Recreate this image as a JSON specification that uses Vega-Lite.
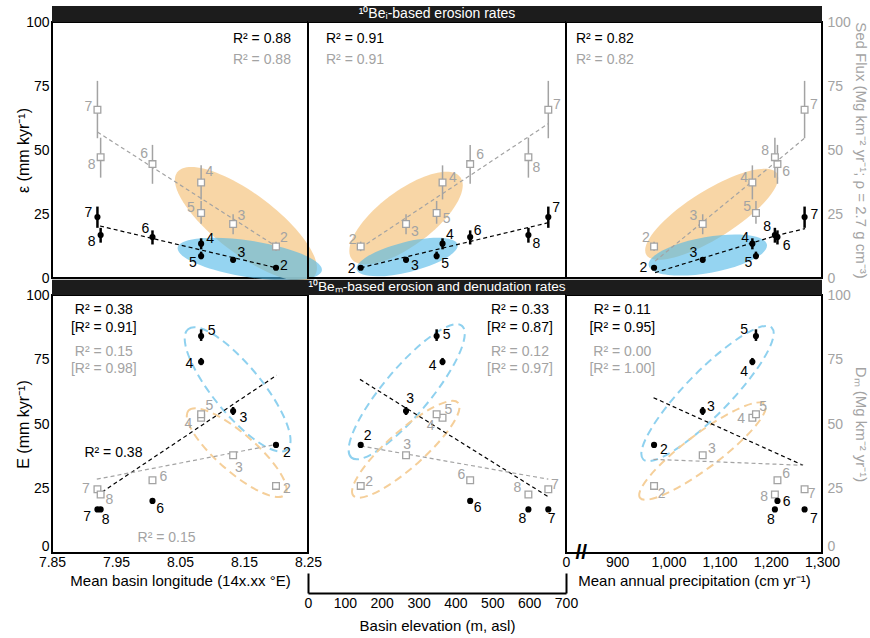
{
"$schema": "https://vega.github.io/schema/vega-lite/v6.json",
"padding": {"left": 14, "top": 5, "right": 5, "bottom": 3},
"autosize": {"type": "pad"},
"config": {
  "font": "Liberation Sans",
  "view": {"stroke": "#000000", "strokeWidth": 2},
  "axis": {"grid": false, "ticks": false, "domain": false, "labelFont": "Liberation Sans", "titleFont": "Liberation Sans", "labelFontSize": 14, "titleFontSize": 16, "titleFontWeight": "normal", "labelColor": "#000000", "titleColor": "#000000", "labelPadding": 3},
  "text": {"font": "Liberation Sans"}
},
"datasets": {
"one": [{"k": 1}],
"pts": [
{"p":"TL","s":"b","n":"2","x":8.200,"y":4.0,"lo":3.5,"hi":4.5},
{"p":"TL","s":"b","n":"3","x":8.133,"y":7.1,"lo":6.1,"hi":8.2},
{"p":"TL","s":"b","n":"4","x":8.083,"y":13.4,"lo":11.2,"hi":15.5},
{"p":"TL","s":"b","n":"5","x":8.083,"y":8.6,"lo":7.3,"hi":10.3},
{"p":"TL","s":"b","n":"6","x":8.007,"y":16.0,"lo":13.1,"hi":18.6},
{"p":"TL","s":"b","n":"7","x":7.921,"y":23.8,"lo":19.6,"hi":27.9},
{"p":"TL","s":"b","n":"8","x":7.926,"y":16.8,"lo":13.8,"hi":19.6},
{"p":"TL","s":"g","n":"2","x":8.200,"y":12.3,"lo":10.5,"hi":14.2},
{"p":"TL","s":"g","n":"3","x":8.133,"y":21.1,"lo":17.1,"hi":24.9},
{"p":"TL","s":"g","n":"4","x":8.083,"y":37.3,"lo":30.7,"hi":44.0},
{"p":"TL","s":"g","n":"5","x":8.083,"y":25.4,"lo":21.2,"hi":30.1},
{"p":"TL","s":"g","n":"6","x":8.007,"y":44.5,"lo":36.8,"hi":52.0},
{"p":"TL","s":"g","n":"7","x":7.921,"y":65.7,"lo":54.6,"hi":77.0},
{"p":"TL","s":"g","n":"8","x":7.926,"y":47.2,"lo":39.2,"hi":54.8},
{"p":"TM","s":"b","n":"2","x":143,"y":4.0,"lo":3.5,"hi":4.5},
{"p":"TM","s":"b","n":"3","x":266,"y":7.1,"lo":6.1,"hi":8.2},
{"p":"TM","s":"b","n":"4","x":365,"y":13.4,"lo":11.2,"hi":15.5},
{"p":"TM","s":"b","n":"5","x":349,"y":8.6,"lo":7.3,"hi":10.3},
{"p":"TM","s":"b","n":"6","x":440,"y":16.0,"lo":13.1,"hi":18.6},
{"p":"TM","s":"b","n":"7","x":652,"y":23.8,"lo":19.6,"hi":27.9},
{"p":"TM","s":"b","n":"8","x":598,"y":16.8,"lo":13.8,"hi":19.6},
{"p":"TM","s":"g","n":"2","x":143,"y":12.3,"lo":10.5,"hi":14.2},
{"p":"TM","s":"g","n":"3","x":266,"y":21.1,"lo":17.1,"hi":24.9},
{"p":"TM","s":"g","n":"4","x":365,"y":37.3,"lo":30.7,"hi":44.0},
{"p":"TM","s":"g","n":"5","x":349,"y":25.4,"lo":21.2,"hi":30.1},
{"p":"TM","s":"g","n":"6","x":440,"y":44.5,"lo":36.8,"hi":52.0},
{"p":"TM","s":"g","n":"7","x":652,"y":65.7,"lo":54.6,"hi":77.0},
{"p":"TM","s":"g","n":"8","x":598,"y":47.2,"lo":39.2,"hi":54.8},
{"p":"TR","s":"b","n":"2","x":972,"y":4.0,"lo":3.5,"hi":4.5},
{"p":"TR","s":"b","n":"3","x":1067,"y":7.1,"lo":6.1,"hi":8.2},
{"p":"TR","s":"b","n":"4","x":1164,"y":13.4,"lo":11.2,"hi":15.5},
{"p":"TR","s":"b","n":"5","x":1171,"y":8.6,"lo":7.3,"hi":10.3},
{"p":"TR","s":"b","n":"6","x":1213,"y":16.0,"lo":13.1,"hi":18.6},
{"p":"TR","s":"b","n":"7","x":1266,"y":23.8,"lo":19.6,"hi":27.9},
{"p":"TR","s":"b","n":"8","x":1208,"y":16.8,"lo":13.8,"hi":19.6},
{"p":"TR","s":"g","n":"2","x":972,"y":12.3,"lo":10.5,"hi":14.2},
{"p":"TR","s":"g","n":"3","x":1067,"y":21.1,"lo":17.1,"hi":24.9},
{"p":"TR","s":"g","n":"4","x":1164,"y":37.3,"lo":30.7,"hi":44.0},
{"p":"TR","s":"g","n":"5","x":1171,"y":25.4,"lo":21.2,"hi":30.1},
{"p":"TR","s":"g","n":"6","x":1213,"y":44.5,"lo":36.8,"hi":52.0},
{"p":"TR","s":"g","n":"7","x":1266,"y":65.7,"lo":54.6,"hi":77.0},
{"p":"TR","s":"g","n":"8","x":1208,"y":47.2,"lo":39.2,"hi":54.8},
{"p":"BL","s":"b","n":"2","x":8.200,"y":41.9,"lo":41.2,"hi":42.6},
{"p":"BL","s":"b","n":"3","x":8.133,"y":55.0,"lo":53.5,"hi":56.6},
{"p":"BL","s":"b","n":"4","x":8.083,"y":74.1,"lo":72.8,"hi":75.6},
{"p":"BL","s":"b","n":"5","x":8.083,"y":84.1,"lo":82.2,"hi":86.7},
{"p":"BL","s":"b","n":"6","x":8.007,"y":20.2,"lo":19.7,"hi":20.7},
{"p":"BL","s":"b","n":"7","x":7.921,"y":16.9,"lo":16.4,"hi":17.4},
{"p":"BL","s":"b","n":"8","x":7.926,"y":16.9,"lo":16.4,"hi":17.4},
{"p":"BL","s":"g","n":"2","x":8.200,"y":26.0},
{"p":"BL","s":"g","n":"3","x":8.133,"y":37.9},
{"p":"BL","s":"g","n":"4","x":8.083,"y":52.4},
{"p":"BL","s":"g","n":"5","x":8.083,"y":53.8},
{"p":"BL","s":"g","n":"6","x":8.007,"y":28.2},
{"p":"BL","s":"g","n":"7","x":7.921,"y":24.7},
{"p":"BL","s":"g","n":"8","x":7.926,"y":22.7},
{"p":"BM","s":"b","n":"2","x":143,"y":41.9,"lo":41.2,"hi":42.6},
{"p":"BM","s":"b","n":"3","x":266,"y":55.0,"lo":53.5,"hi":56.6},
{"p":"BM","s":"b","n":"4","x":365,"y":74.1,"lo":72.8,"hi":75.6},
{"p":"BM","s":"b","n":"5","x":349,"y":84.1,"lo":82.2,"hi":86.7},
{"p":"BM","s":"b","n":"6","x":440,"y":20.2,"lo":19.7,"hi":20.7},
{"p":"BM","s":"b","n":"7","x":652,"y":16.9,"lo":16.4,"hi":17.4},
{"p":"BM","s":"b","n":"8","x":598,"y":16.9,"lo":16.4,"hi":17.4},
{"p":"BM","s":"g","n":"2","x":143,"y":26.0},
{"p":"BM","s":"g","n":"3","x":266,"y":37.9},
{"p":"BM","s":"g","n":"4","x":365,"y":52.4},
{"p":"BM","s":"g","n":"5","x":349,"y":53.8},
{"p":"BM","s":"g","n":"6","x":440,"y":28.2},
{"p":"BM","s":"g","n":"7","x":652,"y":24.7},
{"p":"BM","s":"g","n":"8","x":598,"y":22.7},
{"p":"BR","s":"b","n":"2","x":972,"y":41.9,"lo":41.2,"hi":42.6},
{"p":"BR","s":"b","n":"3","x":1067,"y":55.0,"lo":53.5,"hi":56.6},
{"p":"BR","s":"b","n":"4","x":1164,"y":74.1,"lo":72.8,"hi":75.6},
{"p":"BR","s":"b","n":"5","x":1171,"y":84.1,"lo":82.2,"hi":86.7},
{"p":"BR","s":"b","n":"6","x":1213,"y":20.2,"lo":19.7,"hi":20.7},
{"p":"BR","s":"b","n":"7","x":1266,"y":16.9,"lo":16.4,"hi":17.4},
{"p":"BR","s":"b","n":"8","x":1208,"y":16.9,"lo":16.4,"hi":17.4},
{"p":"BR","s":"g","n":"2","x":972,"y":26.0},
{"p":"BR","s":"g","n":"3","x":1067,"y":37.9},
{"p":"BR","s":"g","n":"4","x":1164,"y":52.4},
{"p":"BR","s":"g","n":"5","x":1171,"y":53.8},
{"p":"BR","s":"g","n":"6","x":1213,"y":28.2},
{"p":"BR","s":"g","n":"7","x":1266,"y":24.7},
{"p":"BR","s":"g","n":"8","x":1208,"y":22.7}
],
"labs": [
{"p":"TL","s":"b","n":"7","x":7.907,"y":25.3},{"p":"TL","s":"b","n":"8","x":7.912,"y":14.2},{"p":"TL","s":"b","n":"6","x":7.996,"y":19.3},{"p":"TL","s":"b","n":"4","x":8.097,"y":15.1},{"p":"TL","s":"b","n":"5","x":8.070,"y":5.7},{"p":"TL","s":"b","n":"3","x":8.146,"y":9.6},{"p":"TL","s":"b","n":"2","x":8.2125,"y":4.7},
{"p":"TL","s":"g","n":"7","x":7.907,"y":66.8},{"p":"TL","s":"g","n":"8","x":7.912,"y":44.0},{"p":"TL","s":"g","n":"6","x":7.994,"y":48.6},{"p":"TL","s":"g","n":"4","x":8.096,"y":41.5},{"p":"TL","s":"g","n":"5","x":8.067,"y":27.2},{"p":"TL","s":"g","n":"3","x":8.146,"y":24.1},{"p":"TL","s":"g","n":"2","x":8.2125,"y":15.5},
{"p":"TM","s":"b","n":"2","x":118.5,"y":3.4},{"p":"TM","s":"b","n":"3","x":290,"y":4.7},{"p":"TM","s":"b","n":"5","x":372,"y":5.3},{"p":"TM","s":"b","n":"4","x":385,"y":16.7},{"p":"TM","s":"b","n":"6","x":460,"y":18.4},{"p":"TM","s":"b","n":"8","x":620,"y":13.2},{"p":"TM","s":"b","n":"7","x":673,"y":27.5},
{"p":"TM","s":"g","n":"2","x":121,"y":14.7},{"p":"TM","s":"g","n":"3","x":290,"y":18.0},{"p":"TM","s":"g","n":"5","x":376,"y":22.9},{"p":"TM","s":"g","n":"4","x":393,"y":39.2},{"p":"TM","s":"g","n":"6","x":467,"y":48.0},{"p":"TM","s":"g","n":"8","x":620,"y":43.1},{"p":"TM","s":"g","n":"7","x":675,"y":67.5},
{"p":"TR","s":"b","n":"2","x":951,"y":4.0},{"p":"TR","s":"b","n":"3","x":1049,"y":9.9},{"p":"TR","s":"b","n":"4","x":1150,"y":15.7},{"p":"TR","s":"b","n":"5","x":1156,"y":6.0},{"p":"TR","s":"b","n":"8","x":1193,"y":20.0},{"p":"TR","s":"b","n":"6","x":1231,"y":12.5},{"p":"TR","s":"b","n":"7","x":1285,"y":24.5},
{"p":"TR","s":"g","n":"2","x":956,"y":15.5},{"p":"TR","s":"g","n":"3","x":1049,"y":24.2},{"p":"TR","s":"g","n":"4","x":1148,"y":39.2},{"p":"TR","s":"g","n":"5","x":1154,"y":27.7},{"p":"TR","s":"g","n":"8","x":1189,"y":49.6},{"p":"TR","s":"g","n":"6","x":1230,"y":41.5},{"p":"TR","s":"g","n":"7","x":1284,"y":67.6},
{"p":"BL","s":"b","n":"5","x":8.0995,"y":86.0},{"p":"BL","s":"b","n":"4","x":8.0645,"y":73.1},{"p":"BL","s":"b","n":"3","x":8.149,"y":52.4},{"p":"BL","s":"b","n":"2","x":8.217,"y":38.9},{"p":"BL","s":"b","n":"6","x":8.019,"y":16.9},{"p":"BL","s":"b","n":"7","x":7.905,"y":14.1},{"p":"BL","s":"b","n":"8","x":7.934,"y":12.8},
{"p":"BL","s":"g","n":"5","x":8.096,"y":57.0},{"p":"BL","s":"g","n":"4","x":8.063,"y":50.1},{"p":"BL","s":"g","n":"3","x":8.142,"y":33.1},{"p":"BL","s":"g","n":"2","x":8.217,"y":24.7},{"p":"BL","s":"g","n":"6","x":8.024,"y":29.5},{"p":"BL","s":"g","n":"7","x":7.903,"y":24.7},{"p":"BL","s":"g","n":"8","x":7.9395,"y":20.5},
{"p":"BM","s":"b","n":"5","x":376,"y":84.4},{"p":"BM","s":"b","n":"4","x":338,"y":72.5},{"p":"BM","s":"b","n":"3","x":277,"y":59.6},{"p":"BM","s":"b","n":"2","x":162,"y":45.3},{"p":"BM","s":"b","n":"6","x":460,"y":17.6},{"p":"BM","s":"b","n":"8","x":582,"y":13.1},{"p":"BM","s":"b","n":"7","x":661,"y":13.3},
{"p":"BM","s":"g","n":"5","x":381,"y":55.3},{"p":"BM","s":"g","n":"4","x":333,"y":49.2},{"p":"BM","s":"g","n":"3","x":269,"y":41.9},{"p":"BM","s":"g","n":"2","x":166,"y":27.6},{"p":"BM","s":"g","n":"6","x":416,"y":30.1},{"p":"BM","s":"g","n":"8","x":568,"y":25.1},{"p":"BM","s":"g","n":"7","x":670,"y":26.2},
{"p":"BR","s":"b","n":"5","x":1148,"y":86.4},{"p":"BR","s":"b","n":"4","x":1148,"y":70.3},{"p":"BR","s":"b","n":"3","x":1083,"y":56.7},{"p":"BR","s":"b","n":"2","x":991,"y":39.9},{"p":"BR","s":"b","n":"6","x":1231,"y":19.8},{"p":"BR","s":"b","n":"8","x":1200,"y":12.8},{"p":"BR","s":"b","n":"7","x":1284,"y":13.3},
{"p":"BR","s":"g","n":"5","x":1185,"y":56.7},{"p":"BR","s":"g","n":"4","x":1142,"y":51.8},{"p":"BR","s":"g","n":"3","x":1085,"y":40.2},{"p":"BR","s":"g","n":"2","x":987,"y":22.8},{"p":"BR","s":"g","n":"6","x":1230,"y":30.5},{"p":"BR","s":"g","n":"8","x":1187,"y":21.8},{"p":"BR","s":"g","n":"7","x":1280,"y":22.8}
],
"fits": [
{"p":"TL","s":"b","o":1,"x":7.925,"y":20.3},{"p":"TL","s":"b","o":2,"x":8.200,"y":4.0},
{"p":"TL","s":"g","o":1,"x":7.921,"y":57.0},{"p":"TL","s":"g","o":2,"x":8.200,"y":12.4},
{"p":"TM","s":"b","o":1,"x":143,"y":4.0},{"p":"TM","s":"b","o":2,"x":652,"y":21.6},
{"p":"TM","s":"g","o":1,"x":143,"y":11.8},{"p":"TM","s":"g","o":2,"x":652,"y":60.3},
{"p":"TR","s":"b","o":1,"x":974,"y":2.1},{"p":"TR","s":"b","o":2,"x":1211,"y":16.6},{"p":"TR","s":"b","o":3,"x":1267,"y":19.3},
{"p":"TR","s":"g","o":1,"x":974,"y":6.6},{"p":"TR","s":"g","o":2,"x":1211,"y":45.5},{"p":"TR","s":"g","o":3,"x":1267,"y":54.8},
{"p":"BL","s":"b","o":1,"x":7.928,"y":23.6},{"p":"BL","s":"b","o":2,"x":8.201,"y":68.9},
{"p":"BL","s":"g","o":1,"x":7.920,"y":28.6},{"p":"BL","s":"g","o":2,"x":8.201,"y":42.1},
{"p":"BM","s":"b","o":1,"x":141,"y":67.3},{"p":"BM","s":"b","o":2,"x":652,"y":21.8},
{"p":"BM","s":"g","o":1,"x":143,"y":41.5},{"p":"BM","s":"g","o":2,"x":652,"y":28.6},
{"p":"BR","s":"b","o":1,"x":971,"y":60.2},{"p":"BR","s":"b","o":2,"x":1263,"y":34.0},
{"p":"BR","s":"g","o":1,"x":971,"y":36.3},{"p":"BR","s":"g","o":2,"x":1263,"y":34.0}
],
"ell": [
{"p":"TL","c":"o","x":8.153,"y":21.1},{"p":"TL","c":"b","x":8.159,"y":7.4},
{"p":"TM","c":"o","x":266,"y":23.4},{"p":"TM","c":"b","x":269,"y":8.2},
{"p":"TR","c":"o","x":1084.6,"y":24.9},{"p":"TR","c":"b","x":1077,"y":9.0},
{"p":"BL","c":"b","x":8.140,"y":63.4},{"p":"BL","c":"o","x":8.1386,"y":38.9},
{"p":"BM","c":"b","x":267.8,"y":62.5},{"p":"BM","c":"o","x":265.3,"y":40.2},
{"p":"BR","c":"b","x":1076.4,"y":61.8},{"p":"BR","c":"o","x":1066.6,"y":39.5}
],
"ann": [
{"p":"TL","s":"b","x":8.178,"y":93.4,"t":"R² = 0.88"},{"p":"TL","s":"g","x":8.178,"y":85.2,"t":"R² = 0.88"},
{"p":"TM","s":"b","x":127.5,"y":93.4,"t":"R² = 0.91"},{"p":"TM","s":"g","x":127.5,"y":85.2,"t":"R² = 0.91"},
{"p":"TR","s":"b","x":876,"y":93.4,"t":"R² = 0.82"},{"p":"TR","s":"g","x":876,"y":85.2,"t":"R² = 0.82"},
{"p":"BL","s":"b","x":7.931,"y":94.1,"t":"R² = 0.38"},{"p":"BL","s":"b","x":7.931,"y":87.3,"t":"[R² = 0.91]"},
{"p":"BL","s":"g","x":7.931,"y":77.9,"t":"R² = 0.15"},{"p":"BL","s":"g","x":7.931,"y":71.2,"t":"[R² = 0.98]"},
{"p":"BL","s":"b","x":7.946,"y":38.9,"t":"R² = 0.38"},{"p":"BL","s":"g","x":8.029,"y":5.7,"t":"R² = 0.15"},
{"p":"BM","s":"b","x":575,"y":94.1,"t":"R² = 0.33"},{"p":"BM","s":"b","x":575,"y":87.3,"t":"[R² = 0.87]"},
{"p":"BM","s":"g","x":575,"y":77.9,"t":"R² = 0.12"},{"p":"BM","s":"g","x":575,"y":71.2,"t":"[R² = 0.97]"},
{"p":"BR","s":"b","x":910,"y":94.1,"t":"R² = 0.11"},{"p":"BR","s":"b","x":910,"y":87.3,"t":"[R² = 0.95]"},
{"p":"BR","s":"g","x":910,"y":77.9,"t":"R² = 0.00"},{"p":"BR","s":"g","x":910,"y":71.2,"t":"[R² = 1.00]"}
]
},
"resolve": {"scale": {"x": "independent", "y": "independent", "color": "independent", "strokeWidth": "independent"}},
"columns": 3,
"spacing": {"row": 17, "column": 0},
"bounds": "flush",
"align": "each",
"concat": [
{
"width": 256, "height": 256,
"layer": [
 {"data": {"name": "one"}, "mark": {"type": "rect", "color": "#1c1c1c"}, "encoding": {"x": {"value": 0}, "x2": {"value": "width"}, "y": {"datum": 100, "type": "quantitative", "scale": {"domain": [0,100], "nice": false}, "axis": {"values": [0,25,50,75,100], "title": "ε (mm kyr⁻¹)", "titlePadding": -6}}, "y2": {"datum": 106.25}}},
 {
 "encoding": {
  "x": {"field": "x", "type": "quantitative", "scale": {"domain": [7.85, 8.25], "nice": false}, "axis": null},
  "y": {"field": "y", "type": "quantitative", "scale": {"domain": [0, 100], "nice": false}, "axis": {"values": [0,25,50,75,100], "title": "ε (mm kyr⁻¹)", "titlePadding": -6}}
 },
 "layer": [
 {"data": {"name": "ell"}, "transform": [{"filter": "datum.p == 'TL' && datum.c == 'o'"}], "mark": {"type": "point", "shape": "M-1,0A1,0.35,0,1,1,1,0A1,0.35,0,1,1,-1,0Z", "size": 29584, "angle": 37, "filled": true, "fill": "#f7d29c", "fillOpacity": 0.9, "opacity": 1, "strokeWidth": 0}},
 {"data": {"name": "ell"}, "transform": [{"filter": "datum.p == 'TL' && datum.c == 'b'"}], "mark": {"type": "point", "shape": "M-1,0A1,0.25,0,1,1,1,0A1,0.25,0,1,1,-1,0Z", "size": 21316, "angle": 9, "filled": true, "fill": "#4fb8e8", "fillOpacity": 0.6, "opacity": 1, "strokeWidth": 0}},
 {"data": {"name": "fits"}, "transform": [{"filter": "datum.p == 'TL'"}], "mark": {"type": "line", "strokeDash": [4,3], "strokeWidth": 1.2}, "encoding": {"color": {"field": "s", "type": "nominal", "scale": {"domain": ["b","g"], "range": ["#000000","#a3a3a3"]}, "legend": null}, "order": {"field": "o", "type": "quantitative"}}},
 {"data": {"name": "pts"}, "transform": [{"filter": "datum.p == 'TL' && isValid(datum.lo)"}], "mark": {"type": "rule"}, "encoding": {"y": {"field": "lo", "type": "quantitative", "scale": {"domain": [0,100], "nice": false}}, "y2": {"field": "hi"}, "color": {"field": "s", "type": "nominal", "scale": {"domain": ["b","g"], "range": ["#000000","#a3a3a3"]}, "legend": null}, "strokeWidth": {"field": "s", "type": "nominal", "scale": {"domain": ["b","g"], "range": [2.5,1.5]}, "legend": null}}},
 {"data": {"name": "pts"}, "transform": [{"filter": "datum.p == 'TL' && datum.s == 'g'"}], "mark": {"type": "point", "shape": "square", "filled": true, "fill": "#ffffff", "stroke": "#a3a3a3", "strokeWidth": 1.3, "size": 45, "opacity": 1}},
 {"data": {"name": "pts"}, "transform": [{"filter": "datum.p == 'TL' && datum.s == 'b'"}], "mark": {"type": "circle", "color": "#000000", "size": 38, "opacity": 1}},
 {"data": {"name": "labs"}, "transform": [{"filter": "datum.p == 'TL'"}], "mark": {"type": "text", "fontSize": 14, "align": "center", "baseline": "middle"}, "encoding": {"text": {"field": "n", "type": "nominal"}, "color": {"field": "s", "type": "nominal", "scale": {"domain": ["b","g"], "range": ["#000000","#a3a3a3"]}, "legend": null}}},
 {"data": {"name": "ann"}, "transform": [{"filter": "datum.p == 'TL'"}], "mark": {"type": "text", "fontSize": 14, "align": "center", "baseline": "middle"}, "encoding": {"text": {"field": "t", "type": "nominal"}, "color": {"field": "s", "type": "nominal", "scale": {"domain": ["b","g"], "range": ["#000000","#a3a3a3"]}, "legend": null}}}
 ]
 }
]
},
{
"width": 258, "height": 256,
"layer": [
 {"data": {"name": "one"}, "mark": {"type": "rect", "color": "#1c1c1c"}, "encoding": {"x": {"value": 0}, "x2": {"value": "width"}, "y": {"datum": 100, "type": "quantitative", "scale": {"domain": [0,100], "nice": false}, "axis": null}, "y2": {"datum": 106.25}}},
 {"data": {"name": "one"}, "mark": {"type": "text", "text": "¹⁰Beᵢ-based erosion rates", "color": "#ffffff", "fontSize": 14, "align": "center", "baseline": "middle"}, "encoding": {"x": {"datum": 350, "type": "quantitative", "scale": {"domain": [0,700], "nice": false}, "axis": null}, "y": {"datum": 103.1, "type": "quantitative", "scale": {"domain": [0,100], "nice": false}, "axis": null}}},
 {
 "encoding": {
  "x": {"field": "x", "type": "quantitative", "scale": {"domain": [0, 700], "nice": false}, "axis": null},
  "y": {"field": "y", "type": "quantitative", "scale": {"domain": [0, 100], "nice": false}, "axis": null}
 },
 "layer": [
 {"data": {"name": "ell"}, "transform": [{"filter": "datum.p == 'TM' && datum.c == 'o'"}], "mark": {"type": "point", "shape": "M-1,0A1,0.4,0,1,1,1,0A1,0.4,0,1,1,-1,0Z", "size": 18496, "angle": 323, "filled": true, "fill": "#f7d29c", "fillOpacity": 0.9, "opacity": 1, "strokeWidth": 0}},
 {"data": {"name": "ell"}, "transform": [{"filter": "datum.p == 'TM' && datum.c == 'b'"}], "mark": {"type": "point", "shape": "M-1,0A1,0.29,0,1,1,1,0A1,0.29,0,1,1,-1,0Z", "size": 10816, "angle": 346, "filled": true, "fill": "#4fb8e8", "fillOpacity": 0.6, "opacity": 1, "strokeWidth": 0}},
 {"data": {"name": "fits"}, "transform": [{"filter": "datum.p == 'TM'"}], "mark": {"type": "line", "strokeDash": [4,3], "strokeWidth": 1.2}, "encoding": {"color": {"field": "s", "type": "nominal", "scale": {"domain": ["b","g"], "range": ["#000000","#a3a3a3"]}, "legend": null}, "order": {"field": "o", "type": "quantitative"}}},
 {"data": {"name": "pts"}, "transform": [{"filter": "datum.p == 'TM' && isValid(datum.lo)"}], "mark": {"type": "rule"}, "encoding": {"y": {"field": "lo", "type": "quantitative", "scale": {"domain": [0,100], "nice": false}}, "y2": {"field": "hi"}, "color": {"field": "s", "type": "nominal", "scale": {"domain": ["b","g"], "range": ["#000000","#a3a3a3"]}, "legend": null}, "strokeWidth": {"field": "s", "type": "nominal", "scale": {"domain": ["b","g"], "range": [2.5,1.5]}, "legend": null}}},
 {"data": {"name": "pts"}, "transform": [{"filter": "datum.p == 'TM' && datum.s == 'g'"}], "mark": {"type": "point", "shape": "square", "filled": true, "fill": "#ffffff", "stroke": "#a3a3a3", "strokeWidth": 1.3, "size": 45, "opacity": 1}},
 {"data": {"name": "pts"}, "transform": [{"filter": "datum.p == 'TM' && datum.s == 'b'"}], "mark": {"type": "circle", "color": "#000000", "size": 38, "opacity": 1}},
 {"data": {"name": "labs"}, "transform": [{"filter": "datum.p == 'TM'"}], "mark": {"type": "text", "fontSize": 14, "align": "center", "baseline": "middle"}, "encoding": {"text": {"field": "n", "type": "nominal"}, "color": {"field": "s", "type": "nominal", "scale": {"domain": ["b","g"], "range": ["#000000","#a3a3a3"]}, "legend": null}}},
 {"data": {"name": "ann"}, "transform": [{"filter": "datum.p == 'TM'"}], "mark": {"type": "text", "fontSize": 14, "align": "center", "baseline": "middle"}, "encoding": {"text": {"field": "t", "type": "nominal"}, "color": {"field": "s", "type": "nominal", "scale": {"domain": ["b","g"], "range": ["#000000","#a3a3a3"]}, "legend": null}}}
 ]
 }
]
},
{
"width": 256, "height": 256,
"layer": [
 {"data": {"name": "one"}, "mark": {"type": "rect", "color": "#1c1c1c"}, "encoding": {"x": {"value": 0}, "x2": {"value": "width"}, "y": {"datum": 100, "type": "quantitative", "scale": {"domain": [0,100], "nice": false}, "axis": {"orient": "right", "values": [0,25,50,75,100], "title": "Sed Flux (Mg km⁻² yr⁻¹; ρ = 2.7 g cm⁻³)", "labelColor": "#a3a3a3", "titleColor": "#a3a3a3", "labelPadding": 5, "titlePadding": 2, "titleFontSize": 15}}, "y2": {"datum": 106.25}}},
 {
 "encoding": {
  "x": {"field": "x", "type": "quantitative", "scale": {"domain": [800, 1300], "nice": false}, "axis": null},
  "y": {"field": "y", "type": "quantitative", "scale": {"domain": [0, 100], "nice": false}, "axis": {"orient": "right", "values": [0,25,50,75,100], "title": "Sed Flux (Mg km⁻² yr⁻¹; ρ = 2.7 g cm⁻³)", "labelColor": "#a3a3a3", "titleColor": "#a3a3a3", "labelPadding": 5, "titlePadding": 2, "titleFontSize": 15}}
 },
 "layer": [
 {"data": {"name": "ell"}, "transform": [{"filter": "datum.p == 'TR' && datum.c == 'o'"}], "mark": {"type": "point", "shape": "M-1,0A1,0.31,0,1,1,1,0A1,0.31,0,1,1,-1,0Z", "size": 23716, "angle": 328, "filled": true, "fill": "#f7d29c", "fillOpacity": 0.9, "opacity": 1, "strokeWidth": 0}},
 {"data": {"name": "ell"}, "transform": [{"filter": "datum.p == 'TR' && datum.c == 'b'"}], "mark": {"type": "point", "shape": "M-1,0A1,0.3,0,1,1,1,0A1,0.3,0,1,1,-1,0Z", "size": 14400, "angle": 350, "filled": true, "fill": "#4fb8e8", "fillOpacity": 0.6, "opacity": 1, "strokeWidth": 0}},
 {"data": {"name": "fits"}, "transform": [{"filter": "datum.p == 'TR'"}], "mark": {"type": "line", "strokeDash": [4,3], "strokeWidth": 1.2}, "encoding": {"color": {"field": "s", "type": "nominal", "scale": {"domain": ["b","g"], "range": ["#000000","#a3a3a3"]}, "legend": null}, "order": {"field": "o", "type": "quantitative"}}},
 {"data": {"name": "pts"}, "transform": [{"filter": "datum.p == 'TR' && isValid(datum.lo)"}], "mark": {"type": "rule"}, "encoding": {"y": {"field": "lo", "type": "quantitative", "scale": {"domain": [0,100], "nice": false}}, "y2": {"field": "hi"}, "color": {"field": "s", "type": "nominal", "scale": {"domain": ["b","g"], "range": ["#000000","#a3a3a3"]}, "legend": null}, "strokeWidth": {"field": "s", "type": "nominal", "scale": {"domain": ["b","g"], "range": [2.5,1.5]}, "legend": null}}},
 {"data": {"name": "pts"}, "transform": [{"filter": "datum.p == 'TR' && datum.s == 'g'"}], "mark": {"type": "point", "shape": "square", "filled": true, "fill": "#ffffff", "stroke": "#a3a3a3", "strokeWidth": 1.3, "size": 45, "opacity": 1}},
 {"data": {"name": "pts"}, "transform": [{"filter": "datum.p == 'TR' && datum.s == 'b'"}], "mark": {"type": "circle", "color": "#000000", "size": 38, "opacity": 1}},
 {"data": {"name": "labs"}, "transform": [{"filter": "datum.p == 'TR'"}], "mark": {"type": "text", "fontSize": 14, "align": "center", "baseline": "middle"}, "encoding": {"text": {"field": "n", "type": "nominal"}, "color": {"field": "s", "type": "nominal", "scale": {"domain": ["b","g"], "range": ["#000000","#a3a3a3"]}, "legend": null}}},
 {"data": {"name": "ann"}, "transform": [{"filter": "datum.p == 'TR'"}], "mark": {"type": "text", "fontSize": 14, "align": "center", "baseline": "middle"}, "encoding": {"text": {"field": "t", "type": "nominal"}, "color": {"field": "s", "type": "nominal", "scale": {"domain": ["b","g"], "range": ["#000000","#a3a3a3"]}, "legend": null}}}
 ]
 }
]
},
{
"width": 256, "height": 258,
"layer": [
 {"data": {"name": "one"}, "mark": {"type": "rect", "color": "#1c1c1c"}, "encoding": {"x": {"value": 0}, "x2": {"value": "width"}, "y": {"datum": 100, "type": "quantitative", "scale": {"domain": [0,100], "nice": false}, "axis": {"values": [0,25,50,75,100], "title": "E (mm kyr⁻¹)", "titlePadding": -6, "labelBaseline": {"condition": {"test": "datum.value == 0", "value": "bottom"}, "value": "middle"}}}, "y2": {"datum": 105.9}}},
 {
 "encoding": {
  "x": {"field": "x", "type": "quantitative", "scale": {"domain": [7.85, 8.25], "nice": false}, "axis": {"values": [7.85,7.95,8.05,8.15,8.25], "format": ".2f", "title": "Mean basin longitude (14x.xx °E)", "labelFlush": false, "labelPadding": 2, "titleFontSize": 15, "titlePadding": 4}},
  "y": {"field": "y", "type": "quantitative", "scale": {"domain": [0, 100], "nice": false}, "axis": {"values": [0,25,50,75,100], "title": "E (mm kyr⁻¹)", "titlePadding": -6, "labelBaseline": {"condition": {"test": "datum.value == 0", "value": "bottom"}, "value": "middle"}}}
 },
 "layer": [
 {"data": {"name": "ell"}, "transform": [{"filter": "datum.p == 'BL' && datum.c == 'b'"}], "mark": {"type": "point", "shape": "M-1,0A1,0.31,0,1,1,1,0A1,0.31,0,1,1,-1,0Z", "size": 24336, "angle": 50.6, "filled": false, "stroke": "#8fd1ef", "strokeWidth": 2, "strokeDash": [8,5], "opacity": 1}},
 {"data": {"name": "ell"}, "transform": [{"filter": "datum.p == 'BL' && datum.c == 'o'"}], "mark": {"type": "point", "shape": "M-1,0A1,0.3,0,1,1,1,0A1,0.3,0,1,1,-1,0Z", "size": 16384, "angle": 41, "filled": false, "stroke": "#f5cf9a", "strokeWidth": 2, "strokeDash": [8,5], "opacity": 1}},
 {"data": {"name": "fits"}, "transform": [{"filter": "datum.p == 'BL'"}], "mark": {"type": "line", "strokeDash": [4,3], "strokeWidth": 1.2}, "encoding": {"color": {"field": "s", "type": "nominal", "scale": {"domain": ["b","g"], "range": ["#000000","#a3a3a3"]}, "legend": null}, "order": {"field": "o", "type": "quantitative"}}},
 {"data": {"name": "pts"}, "transform": [{"filter": "datum.p == 'BL' && isValid(datum.lo)"}], "mark": {"type": "rule"}, "encoding": {"y": {"field": "lo", "type": "quantitative", "scale": {"domain": [0,100], "nice": false}}, "y2": {"field": "hi"}, "color": {"field": "s", "type": "nominal", "scale": {"domain": ["b","g"], "range": ["#000000","#a3a3a3"]}, "legend": null}, "strokeWidth": {"field": "s", "type": "nominal", "scale": {"domain": ["b","g"], "range": [2.5,1.5]}, "legend": null}}},
 {"data": {"name": "pts"}, "transform": [{"filter": "datum.p == 'BL' && datum.s == 'g'"}], "mark": {"type": "point", "shape": "square", "filled": true, "fill": "#ffffff", "stroke": "#a3a3a3", "strokeWidth": 1.3, "size": 45, "opacity": 1}},
 {"data": {"name": "pts"}, "transform": [{"filter": "datum.p == 'BL' && datum.s == 'b'"}], "mark": {"type": "circle", "color": "#000000", "size": 38, "opacity": 1}},
 {"data": {"name": "labs"}, "transform": [{"filter": "datum.p == 'BL'"}], "mark": {"type": "text", "fontSize": 14, "align": "center", "baseline": "middle"}, "encoding": {"text": {"field": "n", "type": "nominal"}, "color": {"field": "s", "type": "nominal", "scale": {"domain": ["b","g"], "range": ["#000000","#a3a3a3"]}, "legend": null}}},
 {"data": {"name": "ann"}, "transform": [{"filter": "datum.p == 'BL'"}], "mark": {"type": "text", "fontSize": 14, "align": "center", "baseline": "middle"}, "encoding": {"text": {"field": "t", "type": "nominal"}, "color": {"field": "s", "type": "nominal", "scale": {"domain": ["b","g"], "range": ["#000000","#a3a3a3"]}, "legend": null}}}
 ]
 }
]
},
{
"width": 258, "height": 258,
"view": {"stroke": null},
"layer": [
 {"data": {"name": "one"}, "mark": {"type": "rect", "color": "#1c1c1c"}, "encoding": {"x": {"value": 0}, "x2": {"value": "width"}, "y": {"datum": 100, "type": "quantitative", "scale": {"domain": [0,100], "nice": false}, "axis": null}, "y2": {"datum": 105.9}}},
 {"data": {"name": "one"}, "mark": {"type": "text", "text": "¹⁰Beₘ-based erosion and denudation rates", "color": "#ffffff", "fontSize": 13.7, "align": "center", "baseline": "middle"}, "encoding": {"x": {"datum": 350, "type": "quantitative", "scale": {"domain": [0,700], "nice": false}, "axis": {"values": [0,100,200,300,400,500,600,700], "title": "Basin elevation (m, asl)", "offset": 40, "domain": true, "domainColor": "#000000", "domainWidth": 2, "ticks": true, "tickSize": -20, "tickWidth": 2, "tickColor": {"condition": {"test": "datum.value == 0 || datum.value == 700", "value": "#000000"}, "value": "transparent"}, "labelPadding": 23, "labelFlush": false, "titleFontSize": 15, "titlePadding": 8}}, "y": {"datum": 102.95, "type": "quantitative", "scale": {"domain": [0,100], "nice": false}, "axis": null}}},
 {
 "encoding": {
  "x": {"field": "x", "type": "quantitative", "scale": {"domain": [0, 700], "nice": false}, "axis": {"values": [0,100,200,300,400,500,600,700], "title": "Basin elevation (m, asl)", "offset": 40, "domain": true, "domainColor": "#000000", "domainWidth": 2, "ticks": true, "tickSize": -20, "tickWidth": 2, "tickColor": {"condition": {"test": "datum.value == 0 || datum.value == 700", "value": "#000000"}, "value": "transparent"}, "labelPadding": 23, "labelFlush": false, "titleFontSize": 15, "titlePadding": 8}},
  "y": {"field": "y", "type": "quantitative", "scale": {"domain": [0, 100], "nice": false}, "axis": null}
 },
 "layer": [
 {"data": {"name": "ell"}, "transform": [{"filter": "datum.p == 'BM' && datum.c == 'b'"}], "mark": {"type": "point", "shape": "M-1,0A1,0.27,0,1,1,1,0A1,0.27,0,1,1,-1,0Z", "size": 29584, "angle": 310, "filled": false, "stroke": "#8fd1ef", "strokeWidth": 2, "strokeDash": [8,5], "opacity": 1}},
 {"data": {"name": "ell"}, "transform": [{"filter": "datum.p == 'BM' && datum.c == 'o'"}], "mark": {"type": "point", "shape": "M-1,0A1,0.26,0,1,1,1,0A1,0.26,0,1,1,-1,0Z", "size": 19600, "angle": 318.4, "filled": false, "stroke": "#f5cf9a", "strokeWidth": 2, "strokeDash": [8,5], "opacity": 1}},
 {"data": {"name": "fits"}, "transform": [{"filter": "datum.p == 'BM'"}], "mark": {"type": "line", "strokeDash": [4,3], "strokeWidth": 1.2}, "encoding": {"color": {"field": "s", "type": "nominal", "scale": {"domain": ["b","g"], "range": ["#000000","#a3a3a3"]}, "legend": null}, "order": {"field": "o", "type": "quantitative"}}},
 {"data": {"name": "pts"}, "transform": [{"filter": "datum.p == 'BM' && isValid(datum.lo)"}], "mark": {"type": "rule"}, "encoding": {"y": {"field": "lo", "type": "quantitative", "scale": {"domain": [0,100], "nice": false}}, "y2": {"field": "hi"}, "color": {"field": "s", "type": "nominal", "scale": {"domain": ["b","g"], "range": ["#000000","#a3a3a3"]}, "legend": null}, "strokeWidth": {"field": "s", "type": "nominal", "scale": {"domain": ["b","g"], "range": [2.5,1.5]}, "legend": null}}},
 {"data": {"name": "pts"}, "transform": [{"filter": "datum.p == 'BM' && datum.s == 'g'"}], "mark": {"type": "point", "shape": "square", "filled": true, "fill": "#ffffff", "stroke": "#a3a3a3", "strokeWidth": 1.3, "size": 45, "opacity": 1}},
 {"data": {"name": "pts"}, "transform": [{"filter": "datum.p == 'BM' && datum.s == 'b'"}], "mark": {"type": "circle", "color": "#000000", "size": 38, "opacity": 1}},
 {"data": {"name": "labs"}, "transform": [{"filter": "datum.p == 'BM'"}], "mark": {"type": "text", "fontSize": 14, "align": "center", "baseline": "middle"}, "encoding": {"text": {"field": "n", "type": "nominal"}, "color": {"field": "s", "type": "nominal", "scale": {"domain": ["b","g"], "range": ["#000000","#a3a3a3"]}, "legend": null}}},
 {"data": {"name": "ann"}, "transform": [{"filter": "datum.p == 'BM'"}], "mark": {"type": "text", "fontSize": 14, "align": "center", "baseline": "middle"}, "encoding": {"text": {"field": "t", "type": "nominal"}, "color": {"field": "s", "type": "nominal", "scale": {"domain": ["b","g"], "range": ["#000000","#a3a3a3"]}, "legend": null}}}
 ]
 }
]
},
{
"width": 256, "height": 258,
"layer": [
 {"data": {"name": "one"}, "mark": {"type": "rect", "color": "#1c1c1c"}, "encoding": {"x": {"value": 0}, "x2": {"value": "width"}, "y": {"datum": 100, "type": "quantitative", "scale": {"domain": [0,100], "nice": false}, "axis": {"orient": "right", "values": [0,25,50,75,100], "title": "Dₘ (Mg km⁻² yr⁻¹)", "labelColor": "#a3a3a3", "titleColor": "#a3a3a3", "labelPadding": 5, "titlePadding": 2, "titleFontSize": 15, "labelBaseline": {"condition": {"test": "datum.value == 0", "value": "bottom"}, "value": "middle"}}}, "y2": {"datum": 105.9}}},
 {"data": {"name": "one"}, "mark": {"type": "text", "text": "//", "fontSize": 21, "fontWeight": "bold", "align": "center", "baseline": "middle", "color": "#000000"}, "encoding": {"x": {"datum": 830, "type": "quantitative", "scale": {"domain": [800,1300], "nice": false}, "axis": {"values": [800,900,1000,1100,1200,1300], "labelExpr": "datum.value == 800 ? '0' : format(datum.value, ',')", "title": "Mean annual precipitation (cm yr⁻¹)", "labelFlush": false, "labelPadding": 2, "titleFontSize": 15, "titlePadding": 4}}, "y": {"datum": 0, "type": "quantitative", "scale": {"domain": [0,100], "nice": false}, "axis": {"orient": "right", "values": [0,25,50,75,100], "title": "Dₘ (Mg km⁻² yr⁻¹)", "labelColor": "#a3a3a3", "titleColor": "#a3a3a3", "labelPadding": 5, "titlePadding": 2, "titleFontSize": 15, "labelBaseline": {"condition": {"test": "datum.value == 0", "value": "bottom"}, "value": "middle"}}}}},
 {
 "encoding": {
  "x": {"field": "x", "type": "quantitative", "scale": {"domain": [800, 1300], "nice": false}, "axis": {"values": [800,900,1000,1100,1200,1300], "labelExpr": "datum.value == 800 ? '0' : format(datum.value, ',')", "title": "Mean annual precipitation (cm yr⁻¹)", "labelFlush": false, "labelPadding": 2, "titleFontSize": 15, "titlePadding": 4}},
  "y": {"field": "y", "type": "quantitative", "scale": {"domain": [0, 100], "nice": false}, "axis": {"orient": "right", "values": [0,25,50,75,100], "title": "Dₘ (Mg km⁻² yr⁻¹)", "labelColor": "#a3a3a3", "titleColor": "#a3a3a3", "labelPadding": 5, "titlePadding": 2, "titleFontSize": 15, "labelBaseline": {"condition": {"test": "datum.value == 0", "value": "bottom"}, "value": "middle"}}}
 },
 "layer": [
 {"data": {"name": "ell"}, "transform": [{"filter": "datum.p == 'BR' && datum.c == 'b'"}], "mark": {"type": "point", "shape": "M-1,0A1,0.24,0,1,1,1,0A1,0.24,0,1,1,-1,0Z", "size": 33856, "angle": 314.3, "filled": false, "stroke": "#8fd1ef", "strokeWidth": 2, "strokeDash": [8,5], "opacity": 1}},
 {"data": {"name": "ell"}, "transform": [{"filter": "datum.p == 'BR' && datum.c == 'o'"}], "mark": {"type": "point", "shape": "M-1,0A1,0.22,0,1,1,1,0A1,0.22,0,1,1,-1,0Z", "size": 24336, "angle": 323.2, "filled": false, "stroke": "#f5cf9a", "strokeWidth": 2, "strokeDash": [8,5], "opacity": 1}},
 {"data": {"name": "fits"}, "transform": [{"filter": "datum.p == 'BR'"}], "mark": {"type": "line", "strokeDash": [4,3], "strokeWidth": 1.2}, "encoding": {"color": {"field": "s", "type": "nominal", "scale": {"domain": ["b","g"], "range": ["#000000","#a3a3a3"]}, "legend": null}, "order": {"field": "o", "type": "quantitative"}}},
 {"data": {"name": "pts"}, "transform": [{"filter": "datum.p == 'BR' && isValid(datum.lo)"}], "mark": {"type": "rule"}, "encoding": {"y": {"field": "lo", "type": "quantitative", "scale": {"domain": [0,100], "nice": false}}, "y2": {"field": "hi"}, "color": {"field": "s", "type": "nominal", "scale": {"domain": ["b","g"], "range": ["#000000","#a3a3a3"]}, "legend": null}, "strokeWidth": {"field": "s", "type": "nominal", "scale": {"domain": ["b","g"], "range": [2.5,1.5]}, "legend": null}}},
 {"data": {"name": "pts"}, "transform": [{"filter": "datum.p == 'BR' && datum.s == 'g'"}], "mark": {"type": "point", "shape": "square", "filled": true, "fill": "#ffffff", "stroke": "#a3a3a3", "strokeWidth": 1.3, "size": 45, "opacity": 1}},
 {"data": {"name": "pts"}, "transform": [{"filter": "datum.p == 'BR' && datum.s == 'b'"}], "mark": {"type": "circle", "color": "#000000", "size": 38, "opacity": 1}},
 {"data": {"name": "labs"}, "transform": [{"filter": "datum.p == 'BR'"}], "mark": {"type": "text", "fontSize": 14, "align": "center", "baseline": "middle"}, "encoding": {"text": {"field": "n", "type": "nominal"}, "color": {"field": "s", "type": "nominal", "scale": {"domain": ["b","g"], "range": ["#000000","#a3a3a3"]}, "legend": null}}},
 {"data": {"name": "ann"}, "transform": [{"filter": "datum.p == 'BR'"}], "mark": {"type": "text", "fontSize": 14, "align": "center", "baseline": "middle"}, "encoding": {"text": {"field": "t", "type": "nominal"}, "color": {"field": "s", "type": "nominal", "scale": {"domain": ["b","g"], "range": ["#000000","#a3a3a3"]}, "legend": null}}}
 ]
 }
]
}
]
}
